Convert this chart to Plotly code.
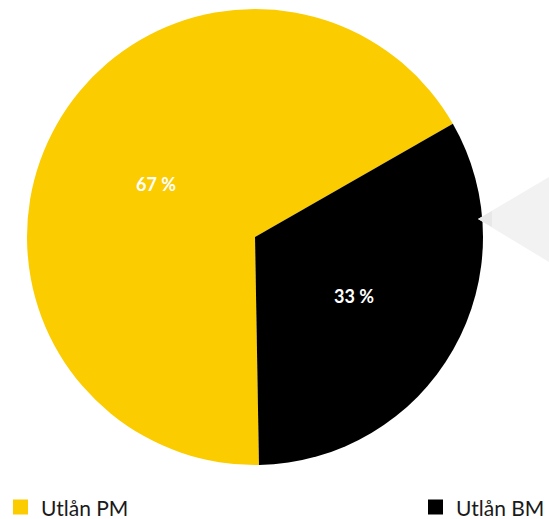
import math
import plotly.graph_objects as go

# Share of loans by category
categories = ["Utlån PM", "Utlån BM"]
shares = [67, 33]
colors = ["#FBCC00", "#000000"]

W, H = 549, 519
start_angle = 179  # degrees clockwise from 12 o'clock where the first slice starts

# Pie placement in pixels (left, right, top, bottom)
px_left, px_right, px_top, px_bottom = 27, 483, 8, 466
dom_x = [px_left / W, px_right / W]
dom_y = [1 - px_bottom / H, 1 - px_top / H]
cx = (px_left + px_right) / 2
cy = (px_top + px_bottom) / 2
r = min(px_right - px_left, px_bottom - px_top) / 2


def P(x, y):
    """Pixel position -> paper coordinates string for shape paths."""
    return f"{x / W:.4f},{1 - y / H:.4f}"


fig = go.Figure(
    go.Pie(
        labels=categories,
        values=shares,
        marker=dict(colors=colors, line=dict(width=0)),
        sort=False,
        direction="clockwise",
        rotation=start_angle,
        textinfo="none",
        hoverinfo="label+percent",
        domain=dict(x=dom_x, y=dom_y),
        showlegend=False,
    )
)

# Percentage labels placed halfway out along each slice's middle angle
total = sum(shares)
angle = start_angle
annotations = []
for v in shares:
    span = 360 * v / total
    mid = math.radians(angle + span / 2)
    lx = cx + 0.5 * r * math.sin(mid)
    ly = cy - 0.5 * r * math.cos(mid) + 3
    annotations.append(
        dict(
            x=lx / W, y=1 - ly / H, xref="paper", yref="paper",
            text=f"<b>{round(100 * v / total)} %</b>", showarrow=False,
            font=dict(color="white", size=18, family="Lato"),
            xanchor="center", yanchor="middle",
        )
    )
    angle += span

# Light grey callout wedge pointing at the pie from the right edge,
# slightly darker right at its tip
shapes = [
    dict(
        type="path", xref="paper", yref="paper",
        path=f"M{P(478, 219)} L{P(549, 177)} L{P(549, 262)} Z",
        fillcolor="#F2F2F2", line=dict(width=0), layer="above",
    ),
    dict(
        type="path", xref="paper", yref="paper",
        path=f"M{P(478, 219)} L{P(492, 211)} L{P(492, 227)} Z",
        fillcolor="#E8E8E8", line=dict(width=0), layer="above",
    ),
]

# Key along the bottom row: a colour square and the category name,
# first entry at the left edge, second at the right
key_left_px = [13, 428]
key_row_y = 507
key_size = 15
for name, color, x0 in zip(categories, colors, key_left_px):
    shapes.append(
        dict(
            type="rect", xref="paper", yref="paper",
            x0=x0 / W, x1=(x0 + key_size) / W,
            y0=1 - (key_row_y + key_size / 2) / H,
            y1=1 - (key_row_y - key_size / 2) / H,
            fillcolor=color, line=dict(width=0),
        )
    )
    annotations.append(
        dict(
            x=(x0 + key_size + 11) / W, y=1 - key_row_y / H,
            xref="paper", yref="paper",
            text=name, showarrow=False,
            font=dict(family="Lato", size=21, color="#1A1A1A"),
            xanchor="left", yanchor="middle",
        )
    )

fig.update_layout(
    width=W, height=H,
    margin=dict(l=0, r=0, t=0, b=0),
    paper_bgcolor="white",
    plot_bgcolor="white",
    font=dict(family="Lato", size=19, color="#1A1A1A"),
    showlegend=False,
    annotations=annotations,
    shapes=shapes,
)

fig.write_html("out.html")
